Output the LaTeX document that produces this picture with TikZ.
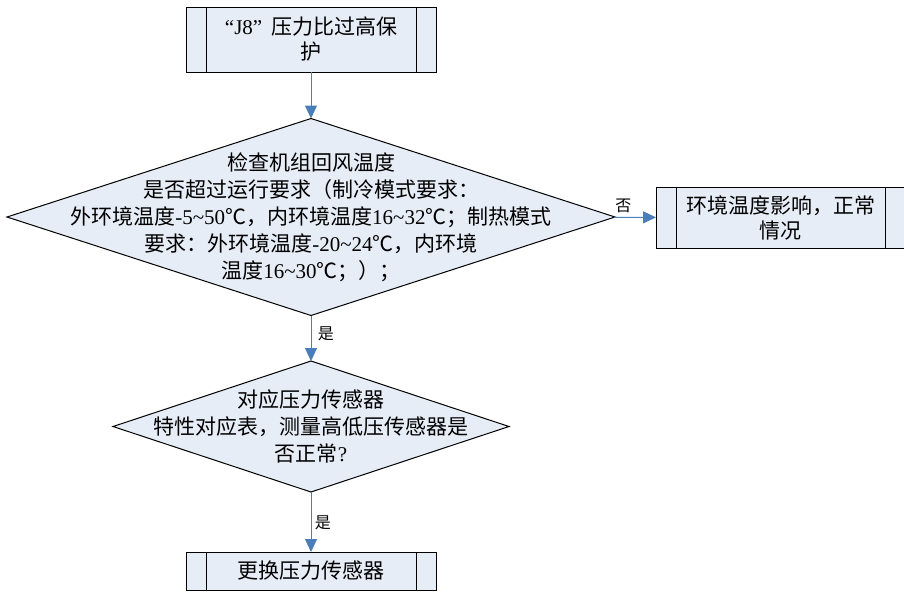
\documentclass[tikz,border=0pt]{standalone}
\usepackage{fontspec}
\setmainfont{Liberation Serif}
\newfontfamily\cjk{Noto Sans CJK SC}
\usepackage{tikz}
\usetikzlibrary{arrows.meta}
\usetikzlibrary{shapes.geometric}
\usepackage{xcolor}
\definecolor{boxfill}{HTML}{E7EDF6}
\definecolor{arrowblue}{HTML}{4A7EBB}
\newcommand{\zh}[1]{{\cjk #1}}

\begin{document}
\begin{tikzpicture}[x=1pt,y=-1pt,->,>={Triangle[width=12pt,length=13pt]},
    proc/.style={draw,fill=boxfill,line width=1pt,inner sep=0pt,outer sep=0pt,align=center,
      font=\fontsize{21}{25}\selectfont,
      path picture={
        \draw[-,line width=1pt] ([xshift=20pt]path picture bounding box.north west) -- ([xshift=20pt]path picture bounding box.south west);
        \draw[-,line width=1pt] ([xshift=-20pt]path picture bounding box.north east) -- ([xshift=-20pt]path picture bounding box.south east);}},
    decide/.style={diamond,draw,fill=boxfill,line width=1pt,inner sep=0pt,outer sep=0pt},
    ask/.style={align=center,font=\fontsize{21}{27}\selectfont},
    flow/.style={draw=arrowblue,color=arrowblue,line width=1pt},
    tag/.style={font=\fontsize{16}{18}\selectfont,text=black}]
      \useasboundingbox (0,0) rectangle (904,592);
      \node[proc,minimum width=250pt,minimum height=65pt] (alarm) at (311,39.5)
        {“J8”\, \zh{压力比过高保}\\\zh{护}};
      \node[decide,minimum width=608pt,minimum height=197pt,
        label={[ask]center:{\zh{检查机组回风温度}\\
          \zh{是否超过运行要求（制冷模式要求：}\\
          \zh{外环境温度}-5\textasciitilde50\zh{℃，内环境温度}16\textasciitilde32\zh{℃；制热模式}\\
          \zh{要求：外环境温度}-20\textasciitilde24\zh{℃，内环境}\\
          \zh{温度}16\textasciitilde30\zh{℃；）；}}}] (check) at (311,217) {};
      \node[decide,minimum width=396pt,minimum height=131pt,
        label={[ask]center:{\zh{对应压力传感器}\\
          \zh{特性对应表，测量高低压传感器是}\\
          \zh{否正常}?}}] (sensor) at (311,426.5) {};
      \node[proc,minimum width=249pt,minimum height=61pt] (normal) at (780.5,217.5)
        {\zh{环境温度影响，正常}\\\zh{情况}};
      \node[proc,minimum width=250pt,minimum height=38pt] (replace) at (311,571)
        {\zh{更换压力传感器}};
      \path (alarm) edge[flow] (check);
      \path (check) edge[flow] node [tag,right,pos=0.4,xshift=3pt] {\zh{是}} (sensor);
      \path (check) edge[flow] node [tag,above,pos=0.22,yshift=1pt] {\zh{否}} (normal);
      \path (sensor) edge[flow] node [tag,right,pos=0.52] {\zh{是}} (replace);
    \end{tikzpicture}
\end{document}
